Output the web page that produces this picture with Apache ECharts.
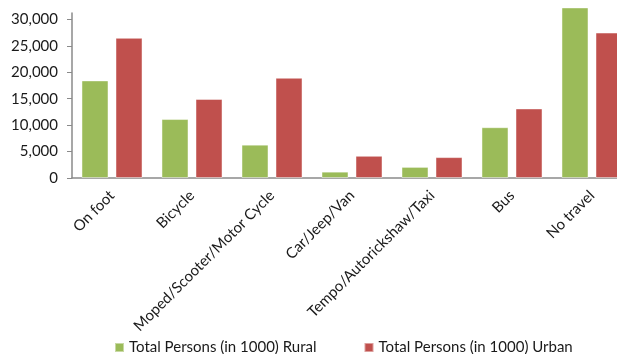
<!DOCTYPE html>
<html>
<head>
<meta charset="utf-8">
<script src="https://cdn.jsdelivr.net/npm/echarts@6/dist/echarts.min.js"></script>
<style>
  html, body { margin: 0; padding: 0; background: #fff; }
  #chart { width: 617px; height: 354px; }
</style>
</head>
<body>
<div id="chart"></div>
<script>
// Mode of travel to place of work, persons in thousands
const categories = ['On foot', 'Bicycle', 'Moped/Scooter/Motor Cycle', 'Car/Jeep/Van',
  'Tempo/Autorickshaw/Taxi', 'Bus', 'No travel'];
const ruralValues = [18450, 11150, 6300, 1200, 2100, 9600, 32250];
const urbanValues = [26500, 14950, 18950, 4200, 3950, 13150, 27500];
const seriesNames = ['Total Persons (in 1000) Rural', 'Total Persons (in 1000) Urban'];
const yTicks = [0, 5000, 10000, 15000, 20000, 25000, 30000];

const FONT = 'Lato';
const chart = echarts.init(document.getElementById('chart'), null, { renderer: 'canvas' });

chart.setOption({
  animation: false,
  backgroundColor: '#ffffff',
  // plot area runs a little past the right edge, so the last bar is cut off
  grid: { left: 72, width: 560, top: 13, bottom: 176, containLabel: false, outerBoundsMode: 'none' },
  legend: {
    left: 109,
    top: 335,
    itemWidth: 9,
    itemHeight: 9,
    itemGap: 47,
    icon: 'rect',
    textStyle: { fontFamily: FONT, fontSize: 15, color: '#1a1a1a' },
    data: seriesNames
  },
  xAxis: {
    type: 'category',
    data: categories,
    axisLine: { lineStyle: { color: '#8a8a8a', width: 1.5 } },
    axisTick: { show: false },
    axisLabel: {
      interval: 0,
      rotate: 45,
      margin: 15,
      fontFamily: FONT,
      fontSize: 15,
      color: '#1a1a1a'
    }
  },
  yAxis: {
    type: 'value',
    min: 0,
    max: 31200,
    interval: 5000,
    splitLine: { show: false },
    axisLine: { show: true, lineStyle: { color: '#8a8a8a', width: 1.5 } },
    axisTick: { show: true, length: 5, customValues: yTicks, lineStyle: { color: '#8a8a8a' } },
    axisLabel: {
      customValues: yTicks,
      margin: 14,
      fontFamily: FONT,
      fontSize: 15,
      color: '#1a1a1a',
      formatter: v => v.toLocaleString('en-US')
    }
  },
  series: [
    {
      name: seriesNames[0],
      type: 'bar',
      data: ruralValues,
      barWidth: 27,
      barGap: '26%',
      clip: false,
      itemStyle: { color: '#9bbb59', borderColor: 'rgba(255,255,255,0.45)', borderWidth: 1 }
    },
    {
      name: seriesNames[1],
      type: 'bar',
      data: urbanValues,
      barWidth: 27,
      clip: false,
      itemStyle: { color: '#c0504d', borderColor: 'rgba(255,255,255,0.45)', borderWidth: 1 }
    }
  ]
});
</script>
</body>
</html>
